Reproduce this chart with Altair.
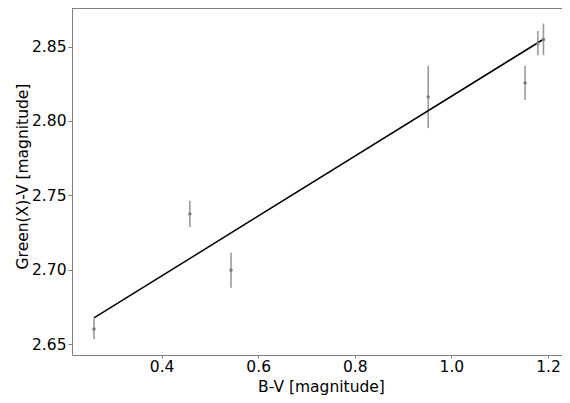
import altair as alt
import pandas as pd

# data
bv = [0.260, 0.4585, 0.5437, 0.952, 1.1525, 1.179, 1.1906]
gv = [2.6602, 2.7376, 2.6998, 2.8162, 2.8256, 2.8523, 2.8548]
err = [0.0069, 0.0088, 0.0118, 0.0210, 0.0115, 0.0081, 0.0106]

fit_x = [0.260, 1.1906]
fit_y = [2.6677, 2.8549]

x_ticks = [0.4, 0.6, 0.8, 1.0, 1.2]
y_ticks = [2.65, 2.70, 2.75, 2.80, 2.85]

pts = pd.DataFrame({"bv": bv, "gv": gv, "err": err})
pts["lo"] = pts["gv"] - pts["err"]
pts["hi"] = pts["gv"] + pts["err"]
fit = pd.DataFrame({"bv": fit_x, "gv": fit_y})

W, H = 490, 347
FONT = "DejaVu Sans"
AXC = "#808080"

xscale = alt.Scale(domain=[0.2145, 0.2145 + W / 483.0], nice=False, zero=False)
yscale = alt.Scale(domain=[2.6428, 2.8759], nice=False, zero=False)

xaxis = alt.Axis(values=x_ticks, format=".1f", title="B-V [magnitude]",
                 grid=False, tickSize=3, labelPadding=1, labelFontSize=15.5,
                 titleFontSize=15.5, titleFontWeight="normal", labelFont=FONT,
                 titleFont=FONT, domainColor=AXC, tickColor=AXC, labelColor="#000000",
                 titleColor="#000000", titleX=249, titleY=36, titleBaseline="alphabetic",
                 labelFlush=False)
yaxis = alt.Axis(values=y_ticks, format=".2f", title="Green(X)-V [magnitude]",
                 grid=False, tickSize=4, labelPadding=2, labelFontSize=15.5,
                 titleFontSize=15.5, titleFontWeight="normal", labelFont=FONT,
                 titleFont=FONT, domainColor=AXC, tickColor=AXC, labelColor="#000000",
                 titleColor="#000000", titleX=-42, titleY=168, labelFlush=False)

bars = alt.Chart(pts).mark_rule(color="#9a9a9a", strokeWidth=1.6).encode(
    x=alt.X("bv:Q", scale=xscale, axis=xaxis),
    y=alt.Y("lo:Q", scale=yscale, axis=yaxis),
    y2="hi:Q",
)
dots = alt.Chart(pts).mark_circle(color="#7a7a7a", size=12, opacity=1).encode(
    x=alt.X("bv:Q", scale=xscale),
    y=alt.Y("gv:Q", scale=yscale),
)
line = alt.Chart(fit).mark_line(color="#000000", strokeWidth=1.5).encode(
    x=alt.X("bv:Q", scale=xscale),
    y=alt.Y("gv:Q", scale=yscale),
)
top = alt.Chart(pts).mark_rule(color=AXC, strokeWidth=1).encode(
    x=alt.value(0), x2=alt.value(W), y=alt.value(0.5)
)

chart = alt.layer(bars, line, dots, top).properties(
    width=W, height=H,
    autosize=alt.AutoSizeParams(type="none"),
    padding={"left": 64, "top": 0, "right": 0, "bottom": 40},
).configure_view(stroke=None)

chart.save("out.html", embed_options={"renderer": "svg", "actions": False})
